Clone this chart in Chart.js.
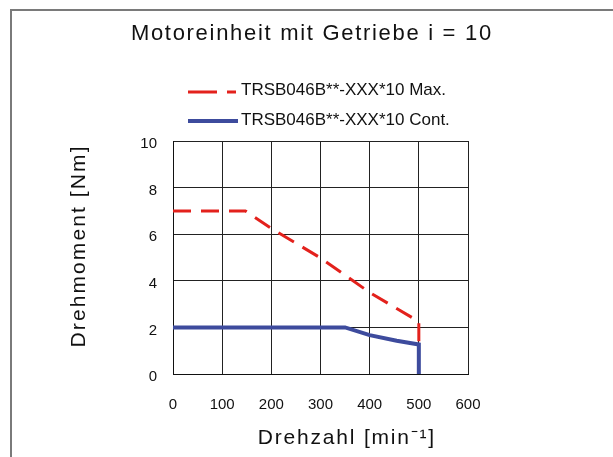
<!DOCTYPE html>
<html>
<head>
<meta charset="utf-8">
<script src="https://cdn.jsdelivr.net/npm/chart.js@4/dist/chart.umd.min.js"></script>
<style>
html,body{margin:0;padding:0;background:#fff;}
canvas{display:block;}
</style>
</head>
<body>
<canvas id="c" width="613" height="457"></canvas>
<script>
const chartTitle = "Motoreinheit mit Getriebe i = 10";
const xTitle = "Drehzahl [min\u207B\u00B9]";
const yTitle = "Drehmoment [Nm]";
const seriesNames = ["TRSB046B**-XXX*10 Max.", "TRSB046B**-XXX*10 Cont."];
const maxSpeed = [0, 147, 200, 300, 400, 500, 500];
const maxTorque = [7, 7, 6.25, 4.98, 3.5, 2.25, 1.25];
const contSpeed = [0, 350, 400, 455, 500, 500];
const contTorque = [2, 2, 1.67, 1.43, 1.27, 0];
const xTicks = [0, 100, 200, 300, 400, 500, 600];
const yTicks = [0, 2, 4, 6, 8, 10];

const RED = "#e3211c";
const BLUE = "#3d4b9d";
const FONT = "'Liberation Sans', Arial, sans-serif";

const toPts = (xs, ys) => xs.map((x, i) => ({x: x, y: ys[i]}));

function spaced(ctx, text, x, y, spacing) {
  if ("letterSpacing" in ctx) {
    ctx.letterSpacing = spacing + "px";
    const w = ctx.measureText(text).width - spacing;
    ctx.textAlign = "left";
    ctx.fillText(text, x - w / 2, y);
    ctx.letterSpacing = "0px";
  } else {
    const chars = Array.from(text);
    const ws = chars.map(c => ctx.measureText(c).width);
    const total = ws.reduce((a, b) => a + b, 0) + spacing * (chars.length - 1);
    let cx = x - total / 2;
    ctx.textAlign = "left";
    chars.forEach((c, i) => { ctx.fillText(c, cx, y); cx += ws[i] + spacing; });
  }
}

const decor = {
  id: "decor",
  afterDraw(chart) {
    const ctx = chart.ctx;
    ctx.save();
    ctx.strokeStyle = "#7a7a7a";
    ctx.lineWidth = 2;
    ctx.beginPath();
    ctx.moveTo(11, 457);
    ctx.lineTo(11, 10);
    ctx.lineTo(613, 10);
    ctx.stroke();
    ctx.fillStyle = "#111";
    ctx.textBaseline = "middle";
    ctx.font = "22px " + FONT;
    spaced(ctx, chartTitle, 311, 34, 1.7);
    ctx.font = "21px " + FONT;
    spaced(ctx, xTitle, 346, 438, 1.8);
    ctx.save();
    ctx.translate(79, 247);
    ctx.rotate(-Math.PI / 2);
    spaced(ctx, yTitle, 0, 0, 2.1);
    ctx.restore();
    ctx.font = "17px " + FONT;
    ctx.textAlign = "left";
    const ds = chart.data.datasets;
    ctx.lineCap = "butt";
    ctx.strokeStyle = ds[0].borderColor;
    ctx.lineWidth = ds[0].borderWidth;
    ctx.beginPath();
    ctx.moveTo(188, 92); ctx.lineTo(217, 92);
    ctx.moveTo(227, 92); ctx.lineTo(236, 92);
    ctx.stroke();
    ctx.fillText(ds[0].label, 241, 90);
    ctx.strokeStyle = ds[1].borderColor;
    ctx.lineWidth = ds[1].borderWidth;
    ctx.beginPath();
    ctx.moveTo(188, 121); ctx.lineTo(238, 121);
    ctx.stroke();
    ctx.fillText(ds[1].label, 241, 120);
    ctx.restore();
  }
};

new Chart(document.getElementById("c"), {
  type: "line",
  data: {
    datasets: [
      {
        label: seriesNames[0],
        data: toPts(maxSpeed, maxTorque),
        borderColor: RED,
        borderWidth: 3,
        borderDash: [18, 10],
        pointRadius: 0,
        tension: 0,
        fill: false
      },
      {
        label: seriesNames[1],
        data: toPts(contSpeed, contTorque),
        borderColor: BLUE,
        borderWidth: 4,
        pointRadius: 0,
        tension: 0,
        fill: false
      }
    ]
  },
  options: {
    responsive: false,
    animation: false,
    devicePixelRatio: 1,
    layout: {padding: {left: 0, top: 141, right: 145, bottom: 0}},
    plugins: {legend: {display: false}, title: {display: false}, tooltip: {enabled: false}},
    scales: {
      x: {
        type: "linear",
        min: xTicks[0],
        max: xTicks[xTicks.length - 1],
        afterFit(s) { s.height = 83; },
        afterBuildTicks(s) { s.ticks = xTicks.map(v => ({value: v})); },
        grid: {color: "#222", lineWidth: 1, drawTicks: false},
        border: {color: "#111", width: 1},
        ticks: {color: "#111", font: {family: FONT, size: 15}, padding: 22, maxRotation: 0}
      },
      y: {
        type: "linear",
        min: yTicks[0],
        max: yTicks[yTicks.length - 1],
        afterFit(s) { s.width = 173; },
        afterBuildTicks(s) { s.ticks = yTicks.map(v => ({value: v})); },
        grid: {color: "#222", lineWidth: 1, drawTicks: false},
        border: {color: "#111", width: 1},
        ticks: {color: "#111", font: {family: FONT, size: 15}, padding: 16, labelOffset: 3}
      }
    }
  },
  plugins: [decor]
});
</script>
</body>
</html>
